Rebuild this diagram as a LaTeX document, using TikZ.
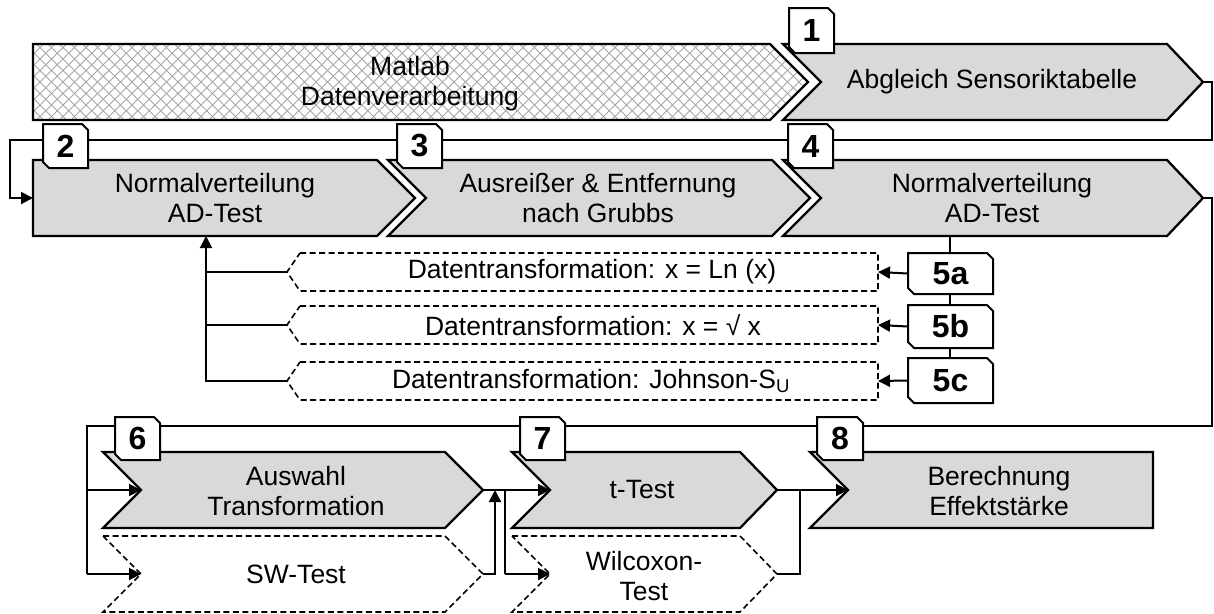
\documentclass[tikz,border=0pt]{standalone}
\usepackage{fontspec}
\setmainfont{Liberation Sans}
\usetikzlibrary{arrows.meta}
\definecolor{boxgray}{HTML}{D9D9D9}
\tikzset{
 grayshape/.style={draw=black, line width=2.3pt, line join=miter, fill=boxgray},
 dashshape/.style={draw=black, line width=1.6pt, dash pattern=on 6pt off 3.5pt, fill=white},
 hatchshape/.style={draw=black, line width=2.3pt, line join=miter},
 hatchline/.style={draw=gray!70, line width=0.75pt},
 txt/.style={align=center, font=\fontsize{26.5}{30}\selectfont, inner sep=0pt},
 tagline/.style={draw=black, line width=2pt, line join=miter, fill=white},
 tagtxt/.style={font=\fontsize{32}{32}\selectfont\bfseries, inner sep=0pt},
 conn/.style={draw=black, line width=2pt},
 arr/.style={conn, -{Triangle[length=12pt,width=12pt]}},
}
% name, cx, cy, half width, half height, text
\newcommand{\tagbox}[6]{%
 \draw[tagline] (#2-#4,#3-#5) -- (#2+#4-6,#3-#5) -- (#2+#4,#3-#5+6) -- (#2+#4,#3+#5)
   -- (#2-#4+6,#3+#5) -- (#2-#4,#3+#5-6) -- cycle;
 \node[tagtxt, minimum width=2*#4, minimum height=2*#5] (#1) at (#2,#3) {#6};}
\begin{document}
\begin{tikzpicture}[x=1pt,y=-1pt]
\useasboundingbox (0,0) rectangle (1214,613);
% ---------- key coordinates
\coordinate (b1tip) at (1203,82);
\coordinate (b2west) at (33,198);
\coordinate (b2bot) at (206,236);
\coordinate (b4tip) at (1203,198);
\coordinate (b4bot) at (950,236);
\coordinate (daw) at (287,272);
\coordinate (dbw) at (287,325);
\coordinate (dcw) at (287,381);
\coordinate (dae) at (878,272);
\coordinate (dbe) at (878,325);
\coordinate (dce) at (878,381);
\coordinate (b6west) at (141,490);
\coordinate (b6tip) at (483,490);
\coordinate (swwest) at (141,574);
\coordinate (swtip) at (483,574);
\coordinate (b7west) at (550,490);
\coordinate (b7tip) at (777,490);
\coordinate (wwest) at (550,574);
\coordinate (wtip) at (777,574);
\coordinate (b8west) at (848,490);
\coordinate (c1r) at (1212,82);
\coordinate (c1d) at (1212,140);
\coordinate (c1l) at (10,140);
\coordinate (c4r) at (1212,198);
\coordinate (c4d) at (1212,426);
\coordinate (r3a) at (87,426);
\coordinate (r3b) at (87,574);
\coordinate (swr) at (495,574);
\coordinate (swup) at (495,490);
\coordinate (wdn) at (505,490);
\coordinate (wdb) at (505,574);
\coordinate (wr) at (800,574);
\coordinate (wup) at (800,490);
\coordinate (t5end) at (950,358);
% ---------- connectors (drawn first, behind tags)
\draw[arr] (b1tip) -- (c1r) -- (c1d) -- (c1l) |- (b2west);
\draw[conn] (b4tip) -- (c4r) -- (c4d) -- (r3a) -- (r3b);
\draw[conn] (b4bot) -- (t5end);
\draw[arr] (dcw) -| (b2bot);
\draw[conn] (daw) -- (daw -| b2bot);
\draw[conn] (dbw) -- (dbw -| b2bot);
\draw[arr] (swtip) -- (swr) -- (swup);
\draw[conn] (wdn) -- (wdb);
\draw[conn] (wtip) -- (wr) -- (wup);
% ---------- row 1
\begin{scope}
 \clip (33,44) -- (770,44) -- (808,82) -- (770,120) -- (33,120) -- cycle;
 \foreach \i in {-90,-78.5,...,830} {
   \draw[hatchline] (\i,44) -- ++(76,76);
   \draw[hatchline] (\i,120) -- ++(76,-76);
 }
\end{scope}
\draw[hatchshape] (33,44) -- (770,44) -- (808,82) -- (770,120) -- (33,120) -- cycle;
\node[txt] (matlab) at (410,84) {Matlab\\Datenverarbeitung};
\draw[grayshape] (783,44) -- (1167,44) -- (b1tip) -- (1167,120) -- (783,120) -- (821,82) -- cycle;
\node[txt] (b1) at (992,82) {Abgleich Sensoriktabelle};
% ---------- row 2
\draw[grayshape] (33,160) -- (377,160) -- (415,198) -- (377,236) -- (33,236) -- cycle;
\node[txt] (b2) at (215,198) {Normalverteilung\\AD-Test};
\draw[grayshape] (388,160) -- (772,160) -- (810,198) -- (772,236) -- (388,236) -- (426,198) -- cycle;
\node[txt] (b3) at (598,198) {Ausreißer \& Entfernung\\nach Grubbs};
\draw[grayshape] (783,160) -- (1167,160) -- (b4tip) -- (1167,236) -- (783,236) -- (821,198) -- cycle;
\node[txt] (b4) at (992,198) {Normalverteilung\\AD-Test};
% ---------- transformations
\draw[dashshape] (300,253) -- (878,253) -- (dae) -- (878,291) -- (300,291) -- (daw) -- cycle;
\node[txt] (da) at (592,272) {Datentransformation: x = Ln (x)};
\draw[dashshape] (300,306) -- (878,306) -- (dbe) -- (878,344) -- (300,344) -- (dbw) -- cycle;
\node[txt] (db) at (593,325) {Datentransformation: x = √ x};
\draw[dashshape] (300,362) -- (878,362) -- (dce) -- (878,400) -- (300,400) -- (dcw) -- cycle;
\node[txt] (dc) at (591,381) {Datentransformation: Johnson-S\textsubscript{U}};
% ---------- row 3
\draw[grayshape] (103,452) -- (445,452) -- (b6tip) -- (445,528) -- (103,528) -- (b6west) -- cycle;
\node[txt] (b6) at (296,491) {Auswahl\\Transformation};
\draw[dashshape] (103,536) -- (445,536) -- (swtip) -- (445,612) -- (103,612) -- (swwest) -- cycle;
\node[txt] (sw) at (296,574) {SW-Test};
\draw[grayshape] (512,452) -- (740,452) -- (b7tip) -- (740,528) -- (512,528) -- (b7west) -- cycle;
\node[txt] (b7) at (642,490) {t-Test};
\draw[dashshape] (512,536) -- (740,536) -- (wtip) -- (740,612) -- (512,612) -- (wwest) -- cycle;
\node[txt] (wil) at (644,576) {Wilcoxon-\\Test};
\draw[grayshape] (810,452) -- (1153,452) -- (1153,528) -- (810,528) -- (b8west) -- cycle;
\node[txt] (b8) at (999,491) {Berechnung\\Effektstärke};
% ---------- arrows ending on shapes
\draw[arr] (r3a |- b6west) -- (b6west);
\draw[arr] (r3b) -- (swwest);
\draw[arr] (b6tip) -- (b7west);
\draw[arr] (wdb) -- (wwest);
\draw[arr] (b7tip) -- (b8west);
% ---------- tags
\tagbox{t1}{811.5}{30.5}{22.5}{22.5}{1}
\tagbox{t2}{65.5}{146}{22.5}{22}{2}
\tagbox{t3}{419.5}{146}{22.5}{22}{3}
\tagbox{t4}{810.5}{146}{22.5}{22}{4}
\tagbox{t5a}{950.5}{273.5}{42.5}{20.5}{5a}
\tagbox{t5b}{950.5}{326.5}{42.5}{21.5}{5b}
\tagbox{t5c}{950.5}{380.5}{42.5}{22.5}{5c}
\draw[arr] (t5a.west) -- (dae);
\draw[arr] (t5b.west) -- (dbe);
\draw[arr] (t5c.west) -- (dce);
\tagbox{t6}{137.5}{438.5}{22.5}{21.5}{6}
\tagbox{t7}{542.5}{438.5}{22.5}{21.5}{7}
\tagbox{t8}{840}{438.5}{23}{21.5}{8}
\end{tikzpicture}
\end{document}
